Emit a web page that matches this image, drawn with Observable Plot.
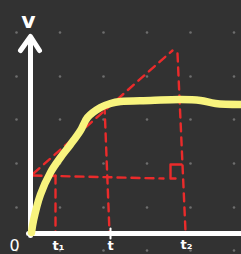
<!DOCTYPE html>
<html><head><meta charset="utf-8">
<script src="https://cdn.jsdelivr.net/npm/d3@7"></script>
<script src="https://cdn.jsdelivr.net/npm/@observablehq/plot@0.6"></script>
<style>html,body{margin:0;padding:0;background:#323232;overflow:hidden}</style>
</head><body><div id="chart"></div>
<script>
// Grid dot positions (t, v units: pixels from the origin)
const gridT = [-14, 29.5, 73, 116.5, 160, 203.5];
const gridV = [201, 157, 114, 70, 26, -17];
// Velocity curve v(t)
const curveT = [1, 3, 10, 20, 30, 40, 50, 57, 70, 80, 90, 120, 150, 170, 185, 211];
const curveV = [1, 13, 39, 61, 76, 89, 103, 116, 126, 130, 132, 133, 134, 133, 130, 129];
// Red dashed construction lines
const tangentT = [3, 142];      const tangentV = [60, 183];
const riseT = [147, 155];       const riseV = [180, 2];
const runT = [3, 133];          const runV = [58, 55];
const t1LineT = [25, 25];       const t1LineV = [58, 1];
const tLineT = [74, 79];        const tLineV = [128, 1];
const angleT = [145, 140, 140, 151]; const angleV = [55, 55, 69, 69];
// Axes
const vAxisT = [0, 0];          const vAxisV = [-2, 195];
const arrowT = [-10, 0, 9];     const arrowV = [183, 197, 183];
const hAxisT = [-2, 211];       const hAxisV = [0, 0];
const tickT = [80, 80];         const tickV = [5, -5];
// Labels
const labelText = ["v", "0", "t\u2081", "t", "t\u2082"];
const labelT = [-2, -16, 28, 80, 156];
const labelV = [213, -12, -12, -12, -11];
const labelSize = [22, 16, 13, 13, 13];
const labelWeight = ["bold", "normal", "bold", "bold", "bold"];

const grid = gridT.flatMap(t => gridV.map(v => ({t, v})));
const pts = (T, V) => T.map((t, i) => ({t, v: V[i]}));
const labels = labelText.map((s, i) => ({s, t: labelT[i], v: labelV[i], size: labelSize[i], w: labelWeight[i]}));

const red = "#ea2b2b";
const dash = {stroke: red, strokeWidth: 2.4, strokeDasharray: "8,6", x: "t", y: "v"};

const chart = Plot.plot({
  width: 241, height: 254,
  margin: 0,
  x: {domain: [-30, 211], axis: null},
  y: {domain: [-21, 233], axis: null},
  style: {background: "#323232"},
  marks: [
    Plot.dot(grid, {x: "t", y: "v", r: 1.3, fill: "#6e6e6e", stroke: null}),
    Plot.line(pts(tangentT, tangentV), dash),
    Plot.line(pts(riseT, riseV), dash),
    Plot.line(pts(runT, runV), dash),
    Plot.line(pts(t1LineT, t1LineV), dash),
    Plot.line(pts(tLineT, tLineV), dash),
    Plot.line(pts(angleT, angleV), {x: "t", y: "v", stroke: red, strokeWidth: 2.4}),
    Plot.line(pts(vAxisT, vAxisV), {x: "t", y: "v", stroke: "white", strokeWidth: 5, strokeLinecap: "round"}),
    Plot.line(pts(arrowT, arrowV), {x: "t", y: "v", stroke: "white", strokeWidth: 5, strokeLinecap: "round", strokeLinejoin: "round"}),
    Plot.line(pts(hAxisT, hAxisV), {x: "t", y: "v", stroke: "white", strokeWidth: 5, strokeLinecap: "round"}),
    Plot.line(pts(tickT, tickV), {x: "t", y: "v", stroke: "white", strokeWidth: 2}),
    Plot.line(pts(curveT, curveV), {x: "t", y: "v", stroke: "#f8f47e", strokeWidth: 7.5, strokeLinecap: "round", curve: "catmull-rom"}),
    Plot.text(labels.filter(d => d.w === "bold"), {x: "t", y: "v", text: "s", fontSize: "size", fill: "white", fontWeight: "bold", fontFamily: "DejaVu Sans"}),
    Plot.text(labels.filter(d => d.w !== "bold"), {x: "t", y: "v", text: "s", fontSize: "size", fill: "white", fontFamily: "DejaVu Sans"})
  ]
});
document.getElementById("chart").append(chart);
</script>
</body></html>
